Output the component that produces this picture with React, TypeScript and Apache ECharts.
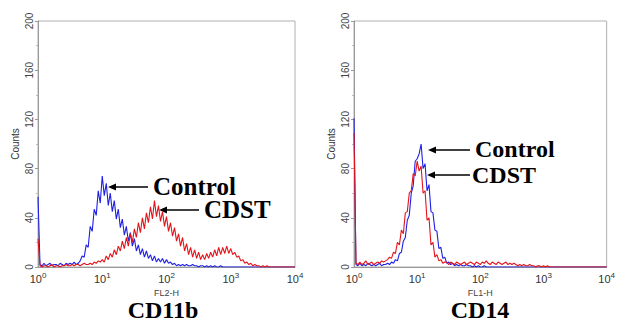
import React, { useEffect, useRef } from "react";
import * as echarts from "echarts";

// channels per decade (log-scale histogram channels, x = channel / CHANNELS_PER_DECADE decades)
const CHANNELS_PER_DECADE = 32;
const decadeTicks = [0, 1, 2, 3, 4];
const yTicks = [0, 40, 80, 120, 160, 200];

// CD11b (FL2-H)
const cd11bControl = [
  57,
  2, 1, 3, 1, 2, 3, 1, 2, 2, 1, 3, 2, 1, 3, 2, 3,
  2, 4, 2, 3, 5, 9, 8, 18, 16, 33, 29, 47, 42, 62, 52, 74,
  58, 68, 50, 60, 45, 54, 39, 47, 32, 39, 26, 33, 21, 28, 17, 23,
  13, 18, 10, 15, 8, 13, 7, 10, 5, 9, 4, 7, 4, 7, 3, 6,
  3, 4, 2, 3, 1, 2, 1, 2, 1, 2, 1, 1, 2, 1, 1, 0,
  1, 1, 0, 1, 0, 1, 0, 1, 0, 0, 1, 0, 0, 0, 0, 0,
  0, 0, 0, 0, 0, 0, 0, 0, 0, 0, 0, 0, 0, 0, 0, 0,
  0, 0, 0, 0, 0, 0, 0, 0, 0, 0, 0, 0, 0, 0, 0, 0,
];
const cd11bCDST = [
  23,
  1, 0, 1, 1, 0, 1, 2, 0, 1, 1, 0, 1, 1, 2, 1, 1,
  2, 1, 2, 2, 1, 2, 3, 2, 2, 3, 2, 4, 3, 5, 4, 6,
  4, 9, 6, 11, 8, 14, 10, 17, 13, 21, 15, 24, 17, 27, 20, 31,
  24, 36, 28, 40, 31, 44, 36, 49, 39, 54, 41, 50, 37, 45, 33, 41,
  29, 36, 25, 32, 21, 27, 17, 24, 13, 19, 10, 16, 8, 14, 7, 12,
  6, 10, 6, 11, 7, 12, 8, 14, 9, 16, 10, 16, 11, 17, 11, 15,
  10, 12, 8, 9, 5, 6, 3, 4, 2, 3, 1, 2, 1, 1, 0, 1,
  0, 1, 0, 0, 0, 0, 0, 0, 0, 0, 0, 0, 0, 0, 0, 0,
];

// CD14 (FL1-H)
const cd14Control = [
  121,
  2, 1, 3, 1, 2, 1, 3, 2, 1, 2, 1, 2, 3, 1, 2, 2,
  3, 2, 4, 3, 6, 5, 11, 12, 21, 24, 38, 42, 60, 66, 86, 88,
  92, 100, 80, 84, 62, 67, 45, 44, 30, 29, 15, 16, 7, 8, 3, 4,
  2, 3, 1, 2, 1, 2, 1, 1, 2, 1, 1, 0, 1, 0, 1, 0,
  0, 1, 0, 0, 0, 0, 0, 0, 0, 0, 0, 0, 0, 0, 0, 0,
  0, 0, 0, 0, 0, 0, 0, 0, 0, 0, 0, 0, 0, 0, 0, 0,
  0, 0, 0, 0, 0, 0, 0, 0, 0, 0, 0, 0, 0, 0, 0, 0,
  0, 0, 0, 0, 0, 0, 0, 0, 0, 0, 0, 0, 0, 0, 0, 0,
];
const cd14CDST = [
  109,
  3, 2, 4, 2, 3, 5, 2, 3, 4, 2, 3, 4, 3, 5, 4, 5,
  6, 8, 7, 12, 11, 20, 18, 30, 27, 44, 45, 60, 62, 76, 74, 86,
  78, 82, 60, 62, 38, 40, 18, 20, 8, 10, 5, 6, 3, 4, 4, 2,
  4, 3, 2, 4, 3, 2, 3, 4, 2, 3, 4, 3, 2, 4, 3, 2,
  4, 3, 5, 3, 2, 4, 3, 2, 4, 3, 2, 3, 4, 2, 3, 2,
  3, 2, 1, 2, 1, 2, 1, 1, 2, 1, 1, 0, 1, 1, 0, 1,
  0, 1, 0, 0, 0, 0, 0, 0, 0, 0, 0, 0, 0, 0, 0, 0,
  0, 0, 0, 0, 0, 0, 0, 0, 0, 0, 0, 0, 0, 0, 0, 0,
];

const panelTitles = ["CD11b", "CD14"];
const axisNames = ["FL2-H", "FL1-H"];
const seriesNames = ["Control", "CDST"];

const BLUE = "#1f1fe6";
const RED = "#e3141b";
const SANS = '"Liberation Sans", Arial, sans-serif';
const SERIF = '"Liberation Serif", "Times New Roman", serif';

const toPairs = (arr: number[]) =>
  arr.map((v, i) => [i / CHANNELS_PER_DECADE, v]);

const arrow = (headX: number, tailX: number, y: number) => [
  {
    type: "line",
    shape: { x1: tailX, y1: y, x2: headX + 6, y2: y },
    style: { stroke: "#000", lineWidth: 1.6 },
  },
  {
    type: "polygon",
    shape: { points: [[headX, y], [headX + 8, y - 3.5], [headX + 8, y + 3.5]] },
    style: { fill: "#000" },
  },
];

const label = (text: string, x: number, y: number, size = 25, align = "left") => ({
  type: "text",
  x,
  y,
  style: {
    text,
    fill: "#000",
    font: `bold ${size}px ${SERIF}`,
    lineHeight: 20,
    textAlign: align,
    textVerticalAlign: "middle",
  },
});

export default function App() {
  const ref = useRef<HTMLDivElement>(null);
  useEffect(() => {
    if (!ref.current) return;
    const chart = echarts.init(ref.current, null, { renderer: "svg" });
    const grids = [
      { left: 38, top: 21, width: 257, height: 246 },
      { left: 354, top: 21, width: 258, height: 246 },
    ];
    const xAxes = grids.map((_, k) => ({
      type: "value",
      gridIndex: k,
      min: decadeTicks[0],
      max: decadeTicks[decadeTicks.length - 1],
      interval: 1,
      name: axisNames[k],
      nameLocation: "middle",
      nameGap: 7,
      nameTextStyle: { fontFamily: SANS, fontSize: 9, color: "#444", lineHeight: 9 },
      axisLine: { show: true, lineStyle: { color: "#999", width: 1 } },
      axisTick: { show: false },
      splitLine: { show: false },
      axisLabel: {
        margin: 4,
        formatter: (v: number) => `{b|10}{s|${v}}`,
        rich: {
          b: { fontFamily: SANS, fontSize: 11, color: "#333" },
          s: { fontFamily: SANS, fontSize: 8, color: "#333", padding: [0, 0, 7, 0] },
        },
      },
    }));
    const yAxes = grids.map((_, k) => ({
      type: "value",
      gridIndex: k,
      min: yTicks[0],
      max: yTicks[yTicks.length - 1],
      interval: 40,
      name: "Counts",
      nameLocation: "middle",
      nameGap: 18,
      nameRotate: 90,
      nameTextStyle: { fontFamily: SANS, fontSize: 10, color: "#333" },
      axisLine: { show: true, lineStyle: { color: "#999", width: 1 } },
      axisTick: { show: true, length: 3, lineStyle: { color: "#999" } },
      minorTick: { show: true, splitNumber: 2, length: 2, lineStyle: { color: "#bbb" } },
      splitLine: { show: false },
      axisLabel: {
        rotate: 90,
        margin: 4,
        fontFamily: SANS,
        fontSize: 10,
        color: "#444",
      },
    }));
    const data = [
      [cd11bControl, cd11bCDST],
      [cd14Control, cd14CDST],
    ];
    const series: any[] = [];
    data.forEach((pair, k) => {
      pair.forEach((arr, j) => {
        series.push({
          type: "line",
          name: seriesNames[j],
          xAxisIndex: k,
          yAxisIndex: k,
          data: toPairs(arr),
          showSymbol: false,
          symbol: "none",
          lineStyle: { color: j === 0 ? BLUE : RED, width: 1.1 },
          z: 2 + j,
        });
      });
    });

    chart.setOption({
      animation: false,
      backgroundColor: "#fff",
      grid: grids.map((g) => ({ ...g, show: true, borderColor: "#b0b0b0", borderWidth: 1, backgroundColor: "transparent" })),
      xAxis: xAxes,
      yAxis: yAxes,
      series,
      graphic: [
        ...arrow(108, 148, 187),
        label(seriesNames[0], 153, 186),
        ...arrow(159, 199, 210),
        label(seriesNames[1], 204, 209),
        ...arrow(428, 470, 150),
        label(seriesNames[0], 475, 149, 24),
        ...arrow(427, 470, 175),
        label(seriesNames[1], 472, 175, 24),
        label(panelTitles[0], 163, 310, 24, "center"),
        label(panelTitles[1], 480, 310, 24, "center"),
      ],
    });
    return () => chart.dispose();
  }, []);
  return (
    <div
      ref={ref}
      style={{ position: "fixed", left: 0, top: 0, width: 618, height: 322 }}
    />
  );
}
